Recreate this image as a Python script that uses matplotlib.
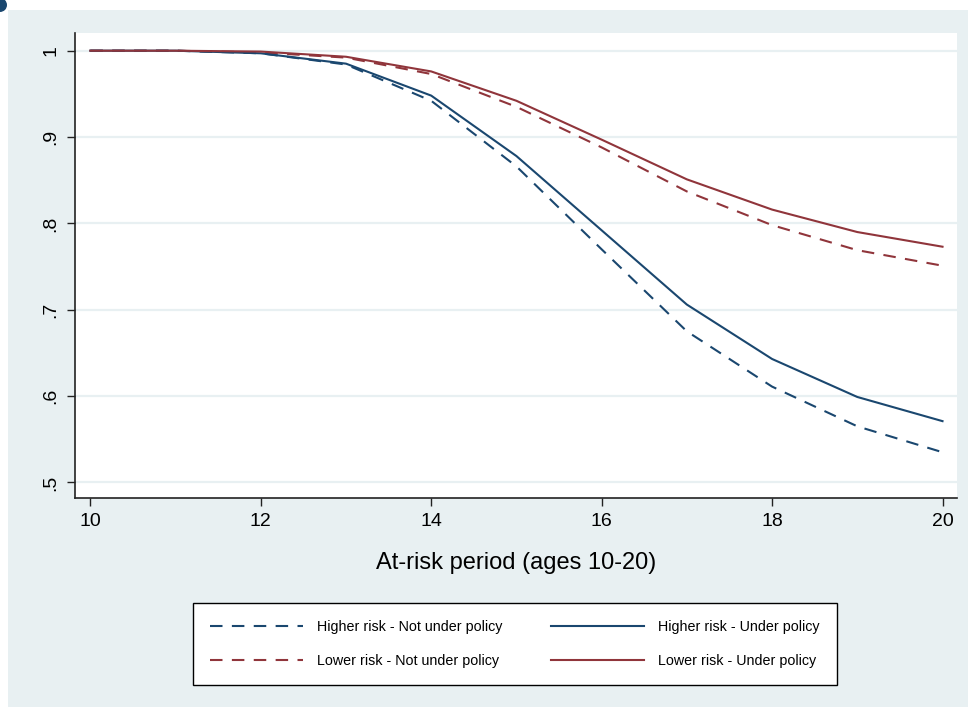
import matplotlib
matplotlib.use('Agg')
import matplotlib.pyplot as plt
from matplotlib.patches import Rectangle, Ellipse

plt.rcParams['font.family'] = ['Liberation Sans', 'DejaVu Sans']

# data
ages = [10, 11, 12, 13, 14, 15, 16, 17, 18, 19, 20]
hr_not = [1.0, 1.0, 0.997, 0.984, 0.942, 0.866, 0.770, 0.675, 0.611, 0.565, 0.535]
hr_under = [1.0, 1.0, 0.997, 0.985, 0.948, 0.878, 0.792, 0.706, 0.643, 0.599, 0.571]
lr_not = [1.0, 1.0, 0.998, 0.992, 0.973, 0.935, 0.888, 0.837, 0.798, 0.769, 0.751]
lr_under = [1.0, 1.0, 0.999, 0.993, 0.976, 0.942, 0.897, 0.851, 0.816, 0.790, 0.773]
yticks = [0.5, 0.6, 0.7, 0.8, 0.9, 1.0]
ytick_labels = ['.5', '.6', '.7', '.8', '.9', '1']
xticks = [10, 12, 14, 16, 18, 20]

navy = '#1a476f'
maroon = '#90353b'
bg = '#e8f0f2'
dash = (0, (6, 4.5))

fig = plt.figure(figsize=(9.68, 7.10), dpi=100, facecolor='white')
# graph region background
fig.patches.append(Rectangle((8/968, 3/710), 1, 697/710, transform=fig.transFigure,
                             facecolor=bg, edgecolor='none', zorder=-5))
fig.patches.append(Ellipse((0.0, 705/710), 14/968, 14/710, transform=fig.transFigure,
                           facecolor=navy, edgecolor='none', zorder=-4))

ax = fig.add_axes([75/968, 212/710, 882/968, 465/710])
ax.set_zorder(2)
ax.set_facecolor('white')

ax.plot(ages, hr_not, color=navy, lw=1.5, ls=dash, label='Higher risk - Not under policy')
ax.plot(ages, lr_not, color=maroon, lw=1.5, ls=dash, label='Lower risk - Not under policy')
ax.plot(ages, hr_under, color=navy, lw=1.5, label='Higher risk - Under policy')
ax.plot(ages, lr_under, color=maroon, lw=1.5, label='Lower risk - Under policy')

ax.set_xlim(9.82, 20.17)
ax.set_ylim(0.482, 1.0205)
ax.set_xticks(xticks)
ax.set_yticks(yticks)
ax.set_yticklabels(ytick_labels, rotation=90, va='center')
ax.grid(axis='y', color='#e8f0f2', lw=1.6)
ax.set_axisbelow(True)

for s in ['top', 'right']:
    ax.spines[s].set_visible(False)
for s in ['left', 'bottom']:
    ax.spines[s].set_color('#222222')
    ax.spines[s].set_linewidth(1.2)
ax.tick_params(direction='out', length=6, width=1, color='#222222', labelsize=14, pad=5)

ax.set_xlabel('At-risk period (ages 10-20)', fontsize=17)
ax.xaxis.set_label_coords(0.5, -0.14)
ax.xaxis.label.set_va('center')

handles, labels = ax.get_legend_handles_labels()
leg = fig.legend(handles, labels, ncol=2, loc='center', mode='expand',
                 bbox_to_anchor=(193/968, 25/710, 644/968, 82/710), borderaxespad=0,
                 fontsize=10.3, frameon=True, fancybox=False, handlelength=6.5,
                 handletextpad=1.0, borderpad=1.2, labelspacing=1.4, columnspacing=2.0)
leg.get_frame().set_edgecolor('black')
leg.get_frame().set_linewidth(1.0)
leg.get_frame().set_facecolor('white')
leg.get_frame().set_alpha(1)

fig.savefig('out.png', dpi=100, facecolor='white')
